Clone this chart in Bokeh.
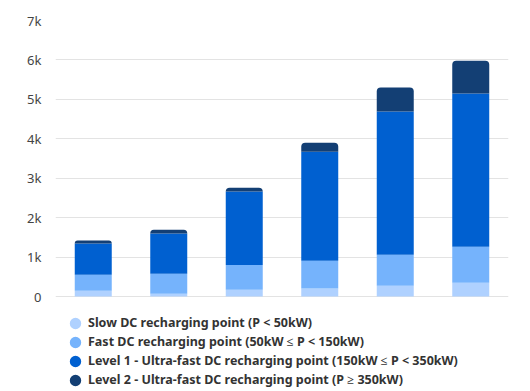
from bokeh.plotting import figure
from bokeh.models import ColumnDataSource, Legend, LegendItem, FixedTicker, Range1d
from bokeh.embed import file_html
from bokeh.resources import INLINE

categories = ["2019", "2020", "2021", "2022", "2023", "2024"]
slow = [144, 68, 170, 200, 270, 350]
fast = [406, 508, 630, 706, 790, 910]
level1 = [796, 1024, 1860, 2764, 3630, 3890]
level2 = [74, 90, 100, 230, 610, 830]

series_keys = ["slow", "fast", "level1", "level2"]
series_names = [
    "Slow DC recharging point (P < 50kW)",
    "Fast DC recharging point (50kW \u2264 P < 150kW)",
    "Level 1 - Ultra-fast DC recharging point (150kW \u2264 P < 350kW)",
    "Level 2 - Ultra-fast DC recharging point (P \u2265 350kW)",
]
colors = ["#afd1ff", "#75b3fc", "#0060d0", "#133f74"]

y_ticks = [0, 1000, 2000, 3000, 4000, 5000, 6000, 7000]
y_tick_labels = ["0", "1k", "2k", "3k", "4k", "5k", "6k", "7k"]

FONT = "Noto Sans"

# layout: chart area 276 px tall, legend area 94 px below it (inside the frame)
CHART_H = 276
LEGEND_H = 94
Y_MAX = 7000
y_min = -Y_MAX * LEGEND_H / CHART_H

source = ColumnDataSource(dict(cat=categories, slow=slow, fast=fast, level1=level1, level2=level2))

p = figure(
    x_range=categories, y_range=Range1d(y_min, Y_MAX),
    frame_width=453, frame_height=CHART_H + LEGEND_H,
    min_border_left=55, min_border_right=20, min_border_top=20, min_border_bottom=0,
    output_backend="svg", toolbar_location=None,
)
p.outline_line_color = None
p.background_fill_color = None
p.border_fill_color = "white"

renderers = p.vbar_stack(series_keys, x="cat", width=0.49, source=source,
                         color=colors, line_color=None)
renderers[-1].glyph.border_radius = (4, 4, 0, 0)

p.xaxis.visible = False
p.xgrid.grid_line_color = None
p.ygrid.grid_line_color = "#e3e3e3"
p.ygrid.grid_line_width = 1

p.yaxis.ticker = FixedTicker(ticks=y_ticks)
p.yaxis.major_label_overrides = dict(zip(y_ticks, y_tick_labels))
p.yaxis.axis_line_color = None
p.yaxis.major_tick_line_color = None
p.yaxis.minor_tick_line_color = None
p.yaxis.major_tick_out = 0
p.yaxis.major_tick_in = 0
p.yaxis.major_label_standoff = 14
p.yaxis.major_label_text_font = FONT
p.yaxis.major_label_text_font_size = "13px"
p.yaxis.major_label_text_color = "#444444"

# legend proxies: one undrawn (NaN) point each, only used for the circle swatch
items = []
for name, col in zip(series_names, colors):
    proxy = ColumnDataSource(dict(x=[categories[0]], y=[float("nan")]))
    r = p.scatter(x="x", y="y", source=proxy, marker="circle", size=12,
                  fill_color=col, line_color=col, line_width=5)
    items.append(LegendItem(label=name, renderers=[r]))

legend = Legend(items=items, location=(12, 2), orientation="vertical",
                border_line_color=None, background_fill_alpha=0,
                label_text_font=FONT, label_text_font_style="bold",
                label_text_font_size="12.5px", label_text_color="#333333",
                glyph_width=16, glyph_height=16, label_height=16,
                label_standoff=5, spacing=2, padding=0, margin=0)
p.add_layout(legend, "center")

with open("out.html", "w") as f:
    f.write(file_html(p, INLINE))
